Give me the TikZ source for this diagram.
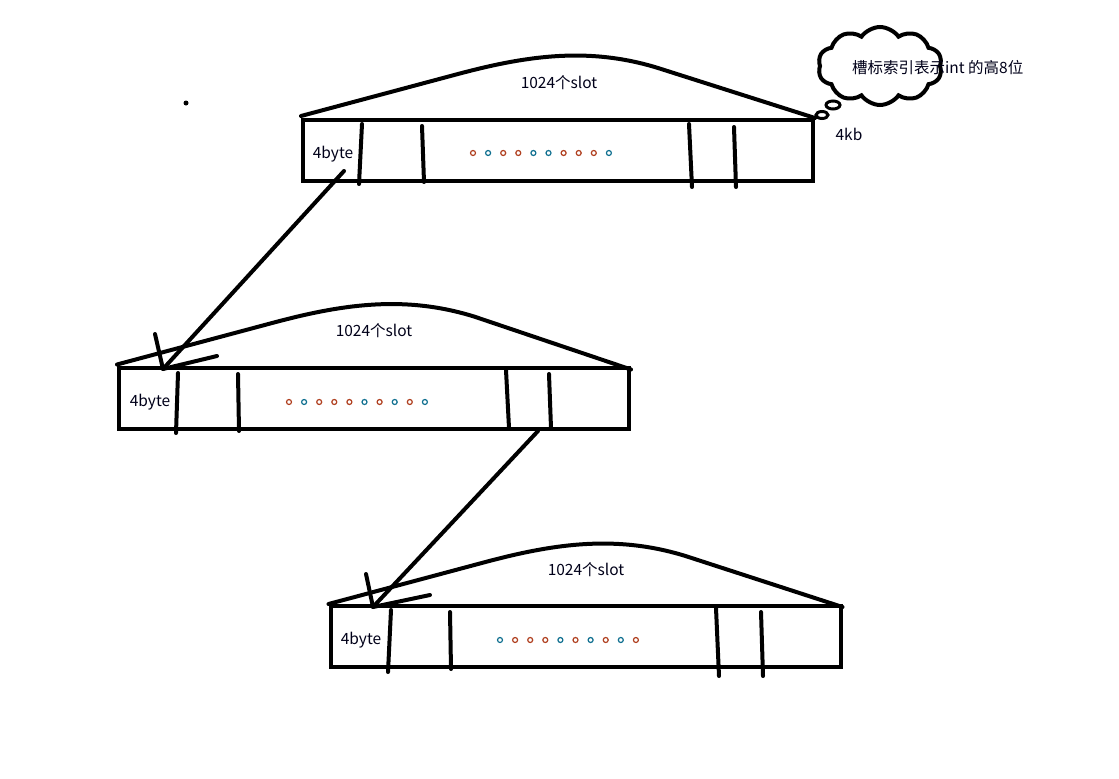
\documentclass[tikz,border=0pt]{standalone}
\usepackage{fontspec}
\setmainfont{Noto Sans CJK SC}
\usetikzlibrary{shapes.symbols}
\definecolor{dotred}{HTML}{B04020}
\definecolor{dotblue}{HTML}{107090}
\tikzset{
  thick line/.style={line width=4pt, line cap=round, line join=round},
  box/.style={draw, line width=4pt, rectangle, minimum width=510pt, minimum height=61pt, inner sep=0pt},
  lbl/.style={font=\fontsize{15.5}{17}\selectfont, inner sep=0pt, text=black!90!blue},
  sdot/.style={draw, circle, line width=1.2pt, minimum size=5pt, inner sep=0pt},
  hump/.style={thick line, to path={-- ++(157,-42) .. controls +(71,-19) and +(-68,-21) .. ++(200,-6) -- (\tikztotarget)}},
}
\begin{document}
\begin{tikzpicture}[x=1pt,y=-1pt]
\useasboundingbox (0,0) rectangle (1119,779);
\fill[white] (0,0) rectangle (1119,779);

% ---------- box 1 ----------
\node[box] (b1) at (558,150.5) {};
\draw[thick line] (362,124) -- (359,184);
\draw[thick line] (422,126) -- (424,182);
\draw[thick line] (689,124) -- (692,187);
\draw[thick line] (734,127) -- (736,187);
\draw[hump] ([yshift=2pt]b1.north west) to (b1.north east);
\node[lbl] (t1) at (559,83) {1024个slot};
\node[lbl] (w1) at (333,154) {4byte};
\foreach \i/\c in {0/dotred,1/dotblue,2/dotred,3/dotred,4/dotblue,5/dotblue,6/dotred,7/dotred,8/dotred,9/dotblue}
  \node[sdot, draw=\c] at (473+15.1*\i,153) {};
\node[lbl] (k1) at (849,134) {4kb};

% cloud
\node[cloud, draw, line width=4pt, cloud puffs=10, cloud puff arc=110, aspect=1.6,
      minimum width=124pt, minimum height=78pt, inner sep=0pt] (cl) at (880,66) {};
\node[lbl, anchor=west] (ct) at (852,68) {槽标索引表示int 的高8位};
\draw[line width=3pt] (833,105) ellipse (7pt and 4pt);
\draw[line width=3pt] (822,115) ellipse (6pt and 3.5pt);

% stray dot
\fill (186,103) circle (2.5pt);

% ---------- box 2 ----------
\node[box] (b2) at (374,398) {};
\draw[thick line] (178,373) -- (176,433);
\draw[thick line] (238,374) -- (239,431);
\draw[thick line] (506,370) -- (509,428);
\draw[thick line] (549,374) -- (551,428);
\draw[hump] ([yshift=1pt]b2.north west) to ([yshift=-4pt]b2.north east);
\node[lbl] (t2) at (374,331) {1024个slot};
\node[lbl] (w2) at (150,402) {4byte};
\foreach \i/\c in {0/dotred,1/dotblue,2/dotred,3/dotred,4/dotred,5/dotblue,6/dotred,7/dotblue,8/dotred,9/dotblue}
  \node[sdot, draw=\c] at (289+15.1*\i,402) {};

% ---------- box 3 ----------
\node[box] (b3) at (585.5,636.5) {};
\draw[thick line] (391,610) -- (388,672);
\draw[thick line] (450,612) -- (451,669);
\draw[thick line] (716,608) -- (719,676);
\draw[thick line] (761,612) -- (763,676);
\draw[hump] (b3.north west) to ([yshift=-3pt]b3.north east);
\node[lbl] (t3) at (586,570) {1024个slot};
\node[lbl] (w3) at (361,640) {4byte};
\foreach \i/\c in {0/dotblue,1/dotred,2/dotred,3/dotred,4/dotblue,5/dotred,6/dotblue,7/dotred,8/dotblue,9/dotred}
  \node[sdot, draw=\c] at (500+15.1*\i,640) {};

% ---------- arrows ----------
\coordinate (a1s) at (344,171);
\coordinate (a1e) at (163,369);
\coordinate (h1a) at (155,334);
\coordinate (h1b) at (217,356);
\draw[thick line] (a1s) -- (a1e);
\draw[thick line] (h1a) -- (a1e) -- (h1b);

\coordinate (a2s) at (538,431);
\coordinate (a2e) at (373,607);
\coordinate (h2a) at (366,574);
\coordinate (h2b) at (430,595);
\draw[thick line] (a2s) -- (a2e);
\draw[thick line] (h2a) -- (a2e) -- (h2b);
\end{tikzpicture}
\end{document}
